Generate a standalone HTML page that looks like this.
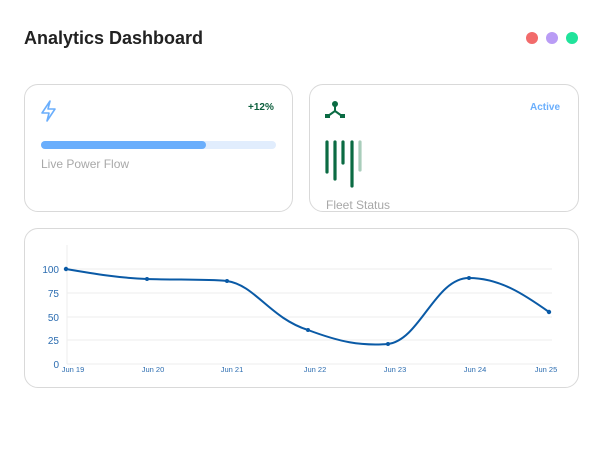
<!DOCTYPE html>
<html><head><meta charset="utf-8"><style>
body{margin:0;width:602px;height:450px;background:#fff;font-family:"Liberation Sans",sans-serif;position:relative;overflow:hidden}
.card{position:absolute;border:1px solid #d9d9d9;border-radius:14px;background:#fff;box-sizing:border-box}
.t{position:absolute}
</style></head><body>
<div class="t" style="left:24px;top:28px;font-size:18px;font-weight:bold;color:#222">Analytics Dashboard</div>
<div class="t" style="left:526px;top:32px;width:12px;height:12px;border-radius:50%;background:#f26b6b"></div>
<div class="t" style="left:546px;top:32px;width:12px;height:12px;border-radius:50%;background:#b99cf5"></div>
<div class="t" style="left:566px;top:32px;width:12px;height:12px;border-radius:50%;background:#20e39b"></div>

<div class="card" style="left:24px;top:84px;width:269px;height:128px"></div>
<svg class="t" style="left:38px;top:99px" width="22" height="24" viewBox="0 0 22 24"><path d="M12 2 L4 14 H11 L9 22 L17 10 H10 Z" fill="none" stroke="#6aaefc" stroke-width="1.6" stroke-linejoin="round"/></svg>
<div class="t" style="left:248px;top:102px;font-size:10px;font-weight:bold;color:#0b5e3c">+12%</div>
<div class="t" style="left:41px;top:141px;width:235px;height:8px;border-radius:4px;background:#e1edfd"></div>
<div class="t" style="left:41px;top:141px;width:165px;height:8px;border-radius:4px;background:#6aaefc"></div>
<div class="t" style="left:41px;top:157px;font-size:12px;color:#a8a8a8">Live Power Flow</div>

<div class="card" style="left:309px;top:84px;width:270px;height:128px"></div>
<svg class="t" style="left:324px;top:100px" width="22" height="20"><circle cx="11" cy="4" r="3" fill="#0b6b43"/><path d="M11 6 V11 L4 16 M11 11 L18 16" stroke="#0b6b43" stroke-width="2" fill="none"/><rect x="1" y="14" width="5" height="4" fill="#0b6b43"/><rect x="16" y="14" width="5" height="4" fill="#0b6b43"/></svg>
<div class="t" style="left:530px;top:102px;font-size:10px;font-weight:bold;color:#6aaefc">Active</div>
<svg class="t" style="left:320px;top:138px" width="50" height="54"><g stroke-linecap="round" stroke-width="3.2"><line x1="7" y1="4" x2="7" y2="34" stroke="#0b6b43"/><line x1="15" y1="4" x2="15" y2="41" stroke="#0b6b43"/><line x1="23" y1="4" x2="23" y2="25" stroke="#0b6b43"/><line x1="32" y1="4" x2="32" y2="48" stroke="#0b6b43"/><line x1="40" y1="4" x2="40" y2="32" stroke="#a9cdbb"/></g></svg>
<div class="t" style="left:326px;top:198px;font-size:12px;color:#a8a8a8">Fleet Status</div>

<div class="card" style="left:24px;top:228px;width:555px;height:160px"></div>
<svg class="t" style="left:0;top:0" width="602" height="450">
<g stroke="#eeeeee" stroke-width="1"><line x1="67" y1="269" x2="552" y2="269"/><line x1="67" y1="293" x2="552" y2="293"/><line x1="67" y1="317" x2="552" y2="317"/><line x1="67" y1="340" x2="552" y2="340"/><line x1="67" y1="364" x2="552" y2="364"/><line x1="67" y1="245" x2="67" y2="364"/></g>
<g font-size="10" fill="#2b6cb0" text-anchor="end"><text x="59" y="273">100</text><text x="59" y="297">75</text><text x="59" y="321">50</text><text x="59" y="344">25</text><text x="59" y="368">0</text></g>
<g font-size="7.5" fill="#2b6cb0" text-anchor="middle"><text x="73" y="372">Jun 19</text><text x="153" y="372">Jun 20</text><text x="232" y="372">Jun 21</text><text x="315" y="372">Jun 22</text><text x="395" y="372">Jun 23</text><text x="475" y="372">Jun 24</text><text x="546" y="372">Jun 25</text></g>
<path d="M66 269 C95 274,120 278,147 279 C175 280,205 279,227 281 C255 285,270 318,308 330 C340 342,360 346,388 344 C420 340,435 278,469 278 C500 278,525 295,549 312" fill="none" stroke="#0a5aa6" stroke-width="2"/>
<g fill="#0a5aa6"><circle cx="66" cy="269" r="2.2"/><circle cx="147" cy="279" r="2"/><circle cx="227" cy="281" r="2"/><circle cx="308" cy="330" r="2"/><circle cx="388" cy="344" r="2"/><circle cx="469" cy="278" r="2"/><circle cx="549" cy="312" r="2.2"/></g>
</svg>
</body></html>
